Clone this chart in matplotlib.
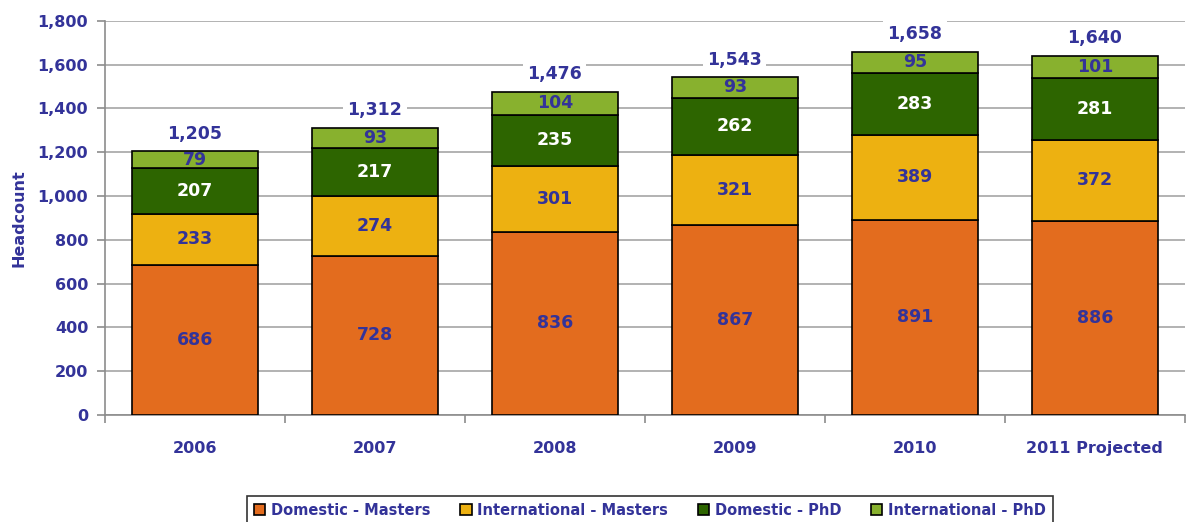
import numpy as np
import matplotlib.pyplot as plt

years = ["2006", "2007", "2008", "2009", "2010", "2011 Projected"]
dom_masters = [686, 728, 836, 867, 891, 886]
intl_masters = [233, 274, 301, 321, 389, 372]
dom_phd = [207, 217, 235, 262, 283, 281]
intl_phd = [79, 93, 104, 93, 95, 101]
totals = [1205, 1312, 1476, 1543, 1658, 1640]

series = [
    ("Domestic - Masters", dom_masters, "#E36C1E", "#333399"),
    ("International - Masters", intl_masters, "#EDB111", "#333399"),
    ("Domestic - PhD", dom_phd, "#2D6500", "white"),
    ("International - PhD", intl_phd, "#88B12E", "#333399"),
]

navy = "#333399"
plt.rcParams['font.family'] = ['DejaVu Sans']

fig = plt.figure(figsize=(11.86, 5.22), dpi=100)
ax = fig.add_axes([0.0885, 0.205, 0.9105, 0.755])

x = np.arange(len(years))
bottom = np.zeros(len(years))
for name, vals, col, tcol in series:
    bars = ax.bar(x, vals, 0.7, bottom=bottom, color=col, edgecolor="black",
                  linewidth=1.2, label=name, zorder=3)
    for xi, b, v in zip(x, bottom, vals):
        ax.text(xi, b + v / 2, str(v), ha="center", va="center", color=tcol,
                fontsize=12.5, fontweight="bold", zorder=4)
    bottom += np.array(vals)

for xi, b, t in zip(x, bottom, totals):
    ax.text(xi, b + 80, f"{t:,}", ha="center", va="center", color=navy,
            fontsize=12.5, fontweight="bold", zorder=4,
            bbox=dict(facecolor="white", edgecolor="none", pad=3))

ax.set_xlim(-0.5, len(years) - 0.5)
ax.set_ylim(0, 1800)
ax.set_yticks(range(0, 1801, 200))
ax.set_yticklabels([f"{v:,}" for v in range(0, 1801, 200)])
ax.yaxis.grid(True, color="#A6A6A6", linewidth=1.2, zorder=0)
ax.set_axisbelow(True)

ax.set_xticks(x)
ax.set_xticklabels(years)
ax.set_xticks(np.arange(-0.5, len(years)), minor=True)
ax.tick_params(axis="x", which="major", length=0, pad=19)
ax.tick_params(axis="x", which="minor", length=6, color="#8C8C8C", width=1.2)
ax.tick_params(axis="y", length=6, color="#8C8C8C", width=1.2, pad=6)
for lab in ax.get_xticklabels() + ax.get_yticklabels():
    lab.set_color(navy)
    lab.set_fontweight("bold")
    lab.set_fontsize(11.5)

for s in ["top", "right"]:
    ax.spines[s].set_visible(False)
for s in ["left", "bottom"]:
    ax.spines[s].set_color("#8C8C8C")
    ax.spines[s].set_linewidth(1.2)

ax.set_ylabel("Headcount", color=navy, fontweight="bold", fontsize=11.5, labelpad=8)

leg = fig.legend(loc="lower center", bbox_to_anchor=(0.548, -0.02), ncol=4,
                 frameon=True, fancybox=False, handlelength=0.8, handleheight=0.8,
                 handletextpad=0.4, columnspacing=2.0, borderpad=0.5,
                 prop={"weight": "bold", "size": 10.5})
leg.get_frame().set_edgecolor("black")
leg.get_frame().set_linewidth(1.2)
for t in leg.get_texts():
    t.set_color(navy)

fig.savefig("out.png", dpi=100)
